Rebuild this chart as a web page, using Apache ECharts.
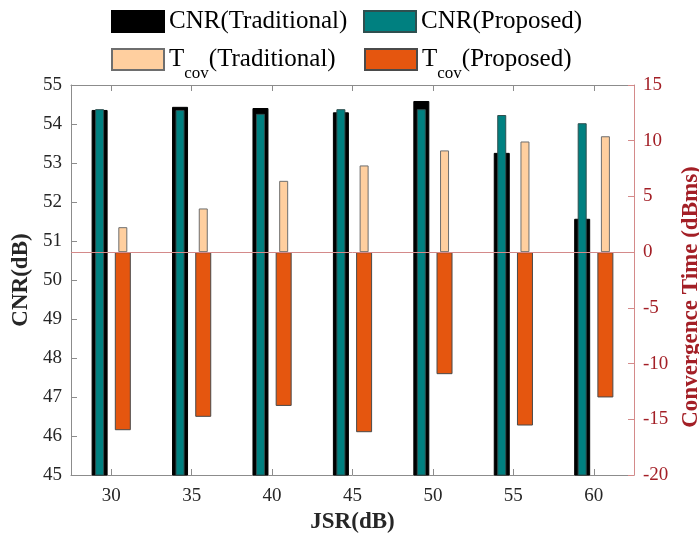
<!DOCTYPE html>
<html>
<head>
<meta charset="utf-8">
<script src="https://cdn.jsdelivr.net/npm/echarts@6/dist/echarts.min.js"></script>
<style>
  html, body { margin: 0; padding: 0; background: #fff; }
  #chart { width: 699px; height: 538px; }
</style>
</head>
<body>
<div id="chart"></div>
<script>
// Jamming-to-signal ratio steps (dB)
const jsrLabels = ['30', '35', '40', '45', '50', '55', '60'];
// Carrier-to-noise ratio (dB), left axis
const cnrTraditional = [54.36, 54.44, 54.41, 54.30, 54.59, 53.26, 51.57];
const cnrProposed    = [54.38, 54.36, 54.26, 54.38, 54.38, 54.23, 54.02];
// Convergence time (dBms), right axis
const tcovTraditional = [2.24, 3.92, 6.40, 7.78, 9.13, 9.93, 10.40];
const tcovProposed    = [-15.98, -14.78, -13.80, -16.16, -10.95, -15.56, -13.04];
// Axis ticks
const cnrTicks = { min: 45, max: 55, interval: 1 };
const tcovTicks = { min: -20, max: 15, interval: 5 };

const FONT = "'Liberation Serif', 'Times New Roman', serif";
const AXIS_GRAY = '#8c8c8c';
const LABEL_DARK = '#262626';
const RIGHT_RED = '#a31f26';
const RIGHT_LINE = '#d48a8a';

const chart = echarts.init(document.getElementById('chart'), null, { renderer: 'canvas' });

function legendText(name) {
  if (name.indexOf('Tcov') === 0) {
    return '{m|T}{s|cov}{m|' + name.slice(4) + '}';
  }
  return '{m|' + name + '}';
}
const legendRich = {
  m: { fontFamily: FONT, fontSize: 25, lineHeight: 28, color: '#000' },
  s: { fontFamily: FONT, fontSize: 17, lineHeight: 17, color: '#000', padding: [28, 0, 0, 0] }
};
function makeLegend(name, left, top) {
  return {
    data: [name],
    left: left,
    top: top,
    padding: 0,
    orient: 'horizontal',
    itemWidth: 52,
    itemHeight: 21,
    icon: 'rect',
    selectedMode: false,
    formatter: legendText,
    textStyle: { rich: legendRich }
  };
}

const xAxisCommon = {
  type: 'category',
  data: jsrLabels,
  boundaryGap: true,
  axisLine: { show: true, onZero: false, lineStyle: { color: AXIS_GRAY, width: 1 } },
  axisTick: { show: true, inside: true, length: 6, alignWithLabel: true, lineStyle: { color: AXIS_GRAY } },
  splitLine: { show: false }
};

const option = {
  backgroundColor: '#ffffff',
  animation: false,
  legend: [
    makeLegend('CNR(Traditional)', 111, 9),
    makeLegend('CNR(Proposed)', 363, 9),
    makeLegend('Tcov(Traditional)', 111, 37),
    makeLegend('Tcov(Proposed)', 364, 37)
  ],
  grid: {
    left: 71, right: 65, top: 85, bottom: 63,
    containLabel: false,
    outerBoundsMode: 'none'
  },
  xAxis: [
    Object.assign({}, xAxisCommon, {
      position: 'bottom',
      name: 'JSR(dB)',
      nameLocation: 'middle',
      nameGap: 36,
      nameTextStyle: { fontFamily: FONT, fontSize: 23, fontWeight: 'bold', color: LABEL_DARK },
      axisLabel: { show: true, margin: 12, fontFamily: FONT, fontSize: 19, color: LABEL_DARK }
    }),
    Object.assign({}, xAxisCommon, {
      position: 'top',
      axisLabel: { show: false }
    })
  ],
  yAxis: [
    {
      type: 'value',
      position: 'left',
      min: cnrTicks.min, max: cnrTicks.max, interval: cnrTicks.interval,
      name: 'CNR(dB)',
      nameLocation: 'middle',
      nameGap: 32,
      nameTextStyle: { fontFamily: FONT, fontSize: 23, fontWeight: 'bold', color: LABEL_DARK },
      axisLine: { show: true, onZero: false, lineStyle: { color: AXIS_GRAY, width: 1 } },
      axisTick: { show: true, inside: true, length: 6, lineStyle: { color: AXIS_GRAY } },
      axisLabel: { margin: 9, fontFamily: FONT, fontSize: 19, color: LABEL_DARK },
      splitLine: { show: false }
    },
    {
      type: 'value',
      position: 'right',
      min: tcovTicks.min, max: tcovTicks.max, interval: tcovTicks.interval,
      name: 'Convergence Time (dBms)',
      nameLocation: 'middle',
      nameGap: 42,
      nameTextStyle: { fontFamily: FONT, fontSize: 23, fontWeight: 'bold', color: RIGHT_RED, padding: [0, 34, 0, 0] },
      axisLine: { show: true, onZero: false, lineStyle: { color: RIGHT_LINE, width: 1 } },
      axisTick: { show: true, inside: true, length: 6, lineStyle: { color: RIGHT_LINE } },
      axisLabel: { margin: 9, fontFamily: FONT, fontSize: 19, color: RIGHT_RED },
      splitLine: { show: false }
    }
  ],
  series: [
    {
      name: 'CNR(Traditional)',
      type: 'bar',
      xAxisIndex: 0, yAxisIndex: 0,
      data: cnrTraditional,
      barWidth: 16,
      barGap: '45%',
      itemStyle: { color: '#000000', borderColor: '#000000', borderWidth: 1 },
      z: 2
    },
    {
      name: 'Tcov(Proposed)',
      type: 'bar',
      xAxisIndex: 0, yAxisIndex: 1,
      data: tcovProposed,
      barWidth: 16,
      barGap: '45%',
      itemStyle: { color: '#e5560f', borderColor: '#4a4a4a', borderWidth: 1 },
      z: 2
    },
    {
      name: 'CNR(Proposed)',
      type: 'bar',
      xAxisIndex: 1, yAxisIndex: 0,
      data: cnrProposed,
      barWidth: 9,
      barGap: '158%',
      itemStyle: { color: '#008080', borderColor: '#2f4f4f', borderWidth: 1 },
      z: 3
    },
    {
      name: 'Tcov(Traditional)',
      type: 'bar',
      xAxisIndex: 1, yAxisIndex: 1,
      data: tcovTraditional,
      barWidth: 9,
      barGap: '158%',
      itemStyle: { color: '#ffcf9f', borderColor: '#6e6e6e', borderWidth: 1 },
      z: 3,
      markLine: {
        silent: true,
        symbol: 'none',
        z: 5,
        label: { show: false },
        lineStyle: { color: RIGHT_LINE, width: 1, type: 'solid' },
        data: [{ yAxis: 0 }]
      }
    }
  ]
};

chart.setOption(option);
</script>
</body>
</html>
